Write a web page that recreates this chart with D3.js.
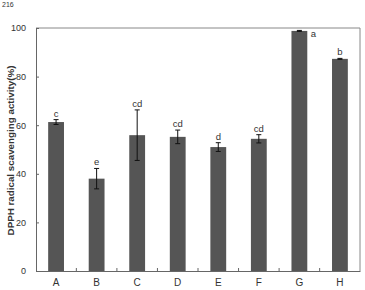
<!doctype html>
<html>
<head>
    <script src="https://d3js.org/d3.v7.min.js"></script>
    <style>
        body { margin: 0; background: #fff; }
        svg text { font-family: "Liberation Sans", Arial, sans-serif; fill: #333; }
    </style>
</head>
<body>
<script>
    // sample groups, mean scavenging activity, error and significance letters
    let categories = ["A", "B", "C", "D", "E", "F", "G", "H"];
    let values = [61.3, 38, 55.9, 55.2, 51, 54.4, 98.8, 87.3];
    let errors = [1.0, 4.2, 10.4, 2.8, 1.8, 1.7, 0.2, 0.2];
    let letters = ["c", "e", "cd", "cd", "d", "cd", "a", "b"];
    let yTicks = [0, 20, 40, 60, 80, 100];

    let width = 365, height = 290;
    let plotLeft = 36, plotRight = 360, plotTop = 28, plotBottom = 271;

    let svg = d3.select("body").append("svg")
        .attr("width", width)
        .attr("height", height);

    let x = d3.scaleBand().domain(categories).range([plotLeft, plotRight]).paddingInner(0.61).paddingOuter(0.3);
    let y = d3.scaleLinear().domain([0, 100]).range([plotBottom, plotTop]);

    // frame (top and right sides)
    svg.append("path")
        .attr("d", "M" + plotLeft + "," + plotTop + "H" + plotRight + "V" + plotBottom)
        .attr("fill", "none")
        .attr("stroke", "#888")
        .attr("stroke-width", 1);

    // y axis with inward ticks
    let yAxis = svg.append("g")
        .attr("transform", "translate(" + plotLeft + ",0)")
        .call(d3.axisLeft(y).tickValues(yTicks).tickSizeInner(-3).tickSizeOuter(0).tickPadding(10));
    yAxis.select(".domain").attr("stroke", "#666");
    yAxis.selectAll(".tick line").attr("stroke", "#666");
    yAxis.selectAll("text").style("font-size", "9px").attr("fill", "#333");

    // x axis: ticks at category boundaries, pointing up
    let xAxis = svg.append("g")
        .attr("transform", "translate(0," + plotBottom + ")")
        .call(d3.axisBottom(x).tickSize(0).tickPadding(8));
    xAxis.select(".domain").attr("stroke", "#666");
    xAxis.selectAll("text").style("font-size", "10px").attr("fill", "#333");
    svg.append("g").selectAll("line")
        .data(categories.slice(1))
        .enter().append("line")
        .attr("x1", d => x(d) - x.step() * x.paddingInner() / 2)
        .attr("x2", d => x(d) - x.step() * x.paddingInner() / 2)
        .attr("y1", plotBottom)
        .attr("y2", plotBottom - 3)
        .attr("stroke", "#666");

    // bars
    svg.append("g").selectAll("rect")
        .data(values)
        .enter().append("rect")
        .attr("x", (d, i) => x(categories[i]))
        .attr("y", d => y(d))
        .attr("width", x.bandwidth())
        .attr("height", d => plotBottom - y(d))
        .attr("fill", "#555");

    // error bars
    let eb = svg.append("g").attr("stroke", "#111").attr("stroke-width", 1);
    values.forEach((v, i) => {
        let cx = x(categories[i]) + x.bandwidth() / 2;
        let hi = y(v + errors[i]), lo = y(v - errors[i]);
        eb.append("line").attr("x1", cx).attr("x2", cx).attr("y1", hi).attr("y2", lo);
        eb.append("line").attr("x1", cx - 2.5).attr("x2", cx + 2.5).attr("y1", hi).attr("y2", hi);
        eb.append("line").attr("x1", cx - 2.5).attr("x2", cx + 2.5).attr("y1", lo).attr("y2", lo);
    });

    // significance letters
    svg.append("g").selectAll("text")
        .data(letters)
        .enter().append("text")
        .attr("x", (d, i) => {
            let cx = x(categories[i]) + x.bandwidth() / 2;
            return values[i] > 95 ? cx + x.bandwidth() / 2 + 6 : cx;
        })
        .attr("y", (d, i) => values[i] > 95 ? y(values[i]) + 6 : y(values[i] + errors[i]) - 3)
        .attr("text-anchor", "middle")
        .style("font-size", "9.5px")
        .text(d => d);

    // y axis title
    svg.append("text")
        .attr("transform", "translate(14," + ((plotTop + plotBottom) / 2 + 1) + ") rotate(-90)")
        .attr("text-anchor", "middle")
        .style("font-size", "9.8px")
        .style("font-weight", "bold")
        .attr("fill", "#111")
        .text("DPPH radical scavenging activity(%)");

    // page number at the top edge
    svg.append("text")
        .attr("x", 2)
        .attr("y", 7)
        .style("font-size", "7px")
        .attr("fill", "#777")
        .text("216");
</script>
</body>
</html>
